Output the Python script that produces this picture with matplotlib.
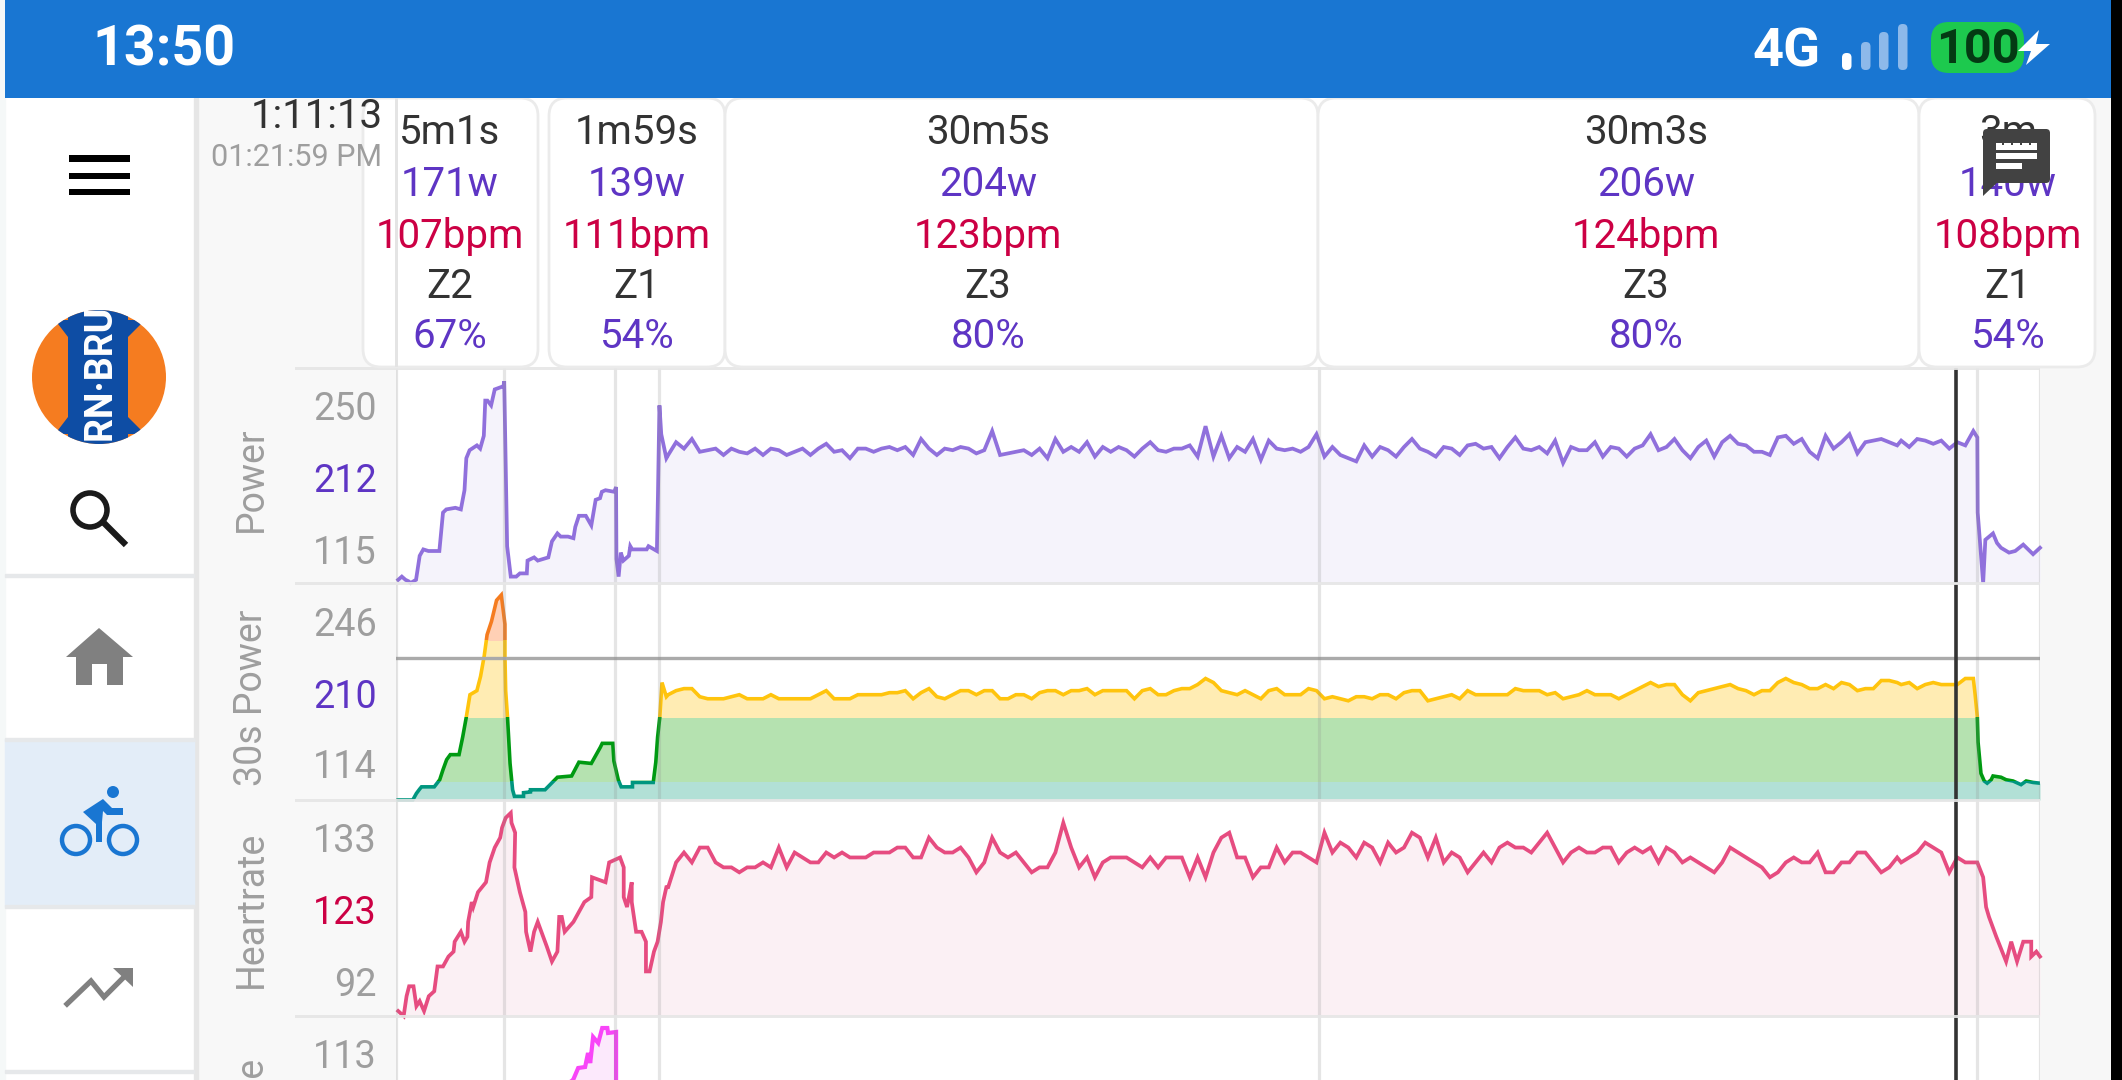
import numpy as np
import matplotlib
matplotlib.use("Agg")
import matplotlib.pyplot as plt
from matplotlib.patches import Rectangle, FancyBboxPatch, Circle, Polygon

plt.rcParams['font.family'] = ['Roboto', 'DejaVu Sans']

# ---------- data ----------
lap_edges = [0, 297, 601, 722, 2532, 4340, 4512]
cursor_t = 4282
threshold_30s = 220

power_head_t = [6,16,26,35,40,55,65,75,89,119,129,138,163,178,188,193,202,222,231,241,245,251,261,271,295,297,305,315,330,340,359,361,379,389,418,428,443,452,472,487,492,502,521,536,548,560,565,575,599,604,605,611,617,624,639,643,648,688,693,716,719,723,728,742]
power_head = [117,119,117,116,115,117,132,136,135,135,159,161,162,161,173,193,198,201,199,207,229,229,226,236,238,241,138,119,119,121,121,129,131,129,131,141,146,144,144,143,150,157,157,151,167,168,172,173,172,175,130,119,134,129,132,138,136,136,138,135,171,226,208,193]
power_lap3 = [195,203,199,205,197,198,199,195,199,197,196,199,195,199,198,195,197,199,195,199,202,197,198,193,199,199,197,199,200,198,200,195,205,199,195,199,198,200,199,196,198,210,195,196,197,198,195,199,193,205,197,200,197,203,194,200,197,200,198,194,199,203,198,197,199,199,201,194,213,194,207,193,200,197,205,192,204,199]
power_lap4 = [198,199,197,200,208,194,200,195,193,191,201,194,200,198,194,200,205,199,197,194,200,199,195,201,202,199,200,193,200,206,199,198,200,196,204,190,200,198,198,203,194,200,199,194,199,201,208,198,200,205,198,193,200,204,194,203,207,202,201,197,197,195,206,207,202,205,197,193,207,199,203,208,196,203,204,205,203,201]
power_end = [204,200,205,204,202,204,199,203,201]
power_tail_t = [4329,4340,4341,4356,4362,4383,4394,4405,4427,4444,4466,4493,4512]
power_tail = [210,206,159,115,142,146,140,137,134,135,139,133,137]

p30_head_t = [6,46,56,65,70,105,120,129,139,149,173,183,193,203,222,232,242,250,262,276,289,299,299,301,306,313,320,325,350,350,369,369,409,443,482,502,536,561,566,595,598,610,618,649,649,706,713,718,724,730,742]
p30_head = [114,114,123,129,132,132,141,149,157,161,161,175,191,202,204,211,221,231,236,244,246,235,221,204,191,154,128,119,119,124,125,128,128,143,144,155,154,167,170,170,156,141,132,132,138,138,155,175,191,208,201]
p30_lap3 = [202,204,205,205,201,200,200,200,201,202,200,200,200,202,200,200,200,200,200,202,204,200,200,200,202,202,202,202,203,203,204,200,203,205,201,200,202,204,204,202,204,204,200,200,202,202,200,203,204,204,202,204,204,205,202,204,204,204,204,200,204,205,202,202,204,205,205,207,210,208,204,203,202,204,202,200,204,205]
p30_lap4 = [202,202,202,205,204,200,201,200,199,201,201,200,202,202,200,203,204,204,199,200,201,202,200,204,202,202,202,202,202,205,204,204,204,202,203,200,201,202,204,202,202,202,200,202,204,206,208,206,207,207,202,199,203,204,205,206,207,205,204,202,204,204,208,210,208,207,205,205,207,205,208,207,204,205,205,209,209,208]
p30_end = [207,208,205,207,208,207,207,207,210]
p30_tail_t = [4329,4334,4340,4342,4350,4359,4367,4378,4383,4405,4419,4438,4460,4474,4493,4512]
p30_tail = [210,202,191,171,146,140,137,141,144,143,141,140,135,140,138,137]
zone_edges = [100, 140, 191, 229, 260]
zone_line = ['#00967F', '#009A12', '#FFC40D', '#F57C1F']
zone_fill = ['#B2E0D6', '#B5E2B0', '#FFECB3', '#FFD0B5']

hr_head_t = [6,21,29,36,48,56,65,77,90,105,114,129,144,158,161,178,188,196,198,208,212,225,247,257,271,286,291,301,315,317,327,325,340,355,357,369,379,389,404,414,428,443,448,455,463,487,502,517,536,538,575,585,615,625,625,634,647,647,659,674,686,686,696,708,718,727,733,742]
hr_head = [93,92,96,98,98,94,95,93,96,97,102,102,104,105,107,109,107,108,111,115,114,117,119,123,126,128,130,132,133,131,129,122,117,113,109,105,109,111,108,106,103,105,112,112,109,111,113,115,116,120,119,123,124,122,116,114,119,115,109,109,107,101,101,105,107,111,115,118]
hr_lap3 = [118,123,125,123,126,126,123,122,122,121,122,122,123,122,126,122,125,124,123,123,125,124,125,124,124,124,125,125,125,126,126,124,124,128,126,125,125,126,124,121,123,128,125,124,125,123,121,122,122,125,131,126,122,124,120,123,124,124,124,123,122,124,122,124,124,124,120,124,120,125,128,129,124,124,120,122,122,126]
hr_lap4 = [123,125,125,124,123,129,125,127,126,124,127,126,123,127,125,126,129,128,124,128,123,125,124,121,123,125,123,126,127,126,126,125,127,129,126,123,125,126,125,125,126,126,123,125,126,125,126,123,126,125,123,124,123,122,121,123,126,125,124,123,122,120,121,123,124,123,123,125,121,121,123,123,125,125,123,121,122,124]
hr_end = [123,124,125,127,126,125,121,124,123]
hr_tail_t = [4329,4340,4356,4364,4372,4392,4419,4433,4449,4466,4488,4488,4502,4512]
hr_tail = [123,123,120,114,112,108,103,107,103,107,107,104,105,104]

cad_t = [400,486,500,519,527,533,541,555,566,580,582,604,604]
cad = [40,61,73,74,88,78,104,98,113,113,108,109,40]

card_centers = [450, 637, 988, 1646, 2008]
card_spans = [(363,538),(549,725),(725,1318),(1318,1919),(1919,2095)]
lap_time = ['5m1s','1m59s','30m5s','30m3s','3m']
lap_watts = ['171w','139w','204w','206w','140w']
lap_bpm = ['107bpm','111bpm','123bpm','124bpm','108bpm']
lap_zone = ['Z2','Z1','Z3','Z3','Z1']
lap_pct = ['67%','54%','80%','80%','54%']

panel_labels = ['Power','30s Power','Heartrate']
# ---------- helpers ----------
W, H = 2122, 1080
fig = plt.figure(figsize=(W/100, H/100), dpi=100, facecolor='white')

def px_axes(z):
    a = fig.add_axes([0,0,1,1], zorder=z)
    a.set_xlim(0,W); a.set_ylim(H,0); a.axis('off'); a.patch.set_alpha(0)
    return a

def panel(top, bottom, z=5):
    a = fig.add_axes([396/W, 1-bottom/H, (2040-396)/W, (bottom-top)/H], zorder=z)
    a.axis('off'); a.patch.set_alpha(0)
    a.set_xlim(0, lap_edges[-1])
    return a

def build(head_t, head, a, b, c, tail_t, tail):
    t = np.concatenate([head_t, np.linspace(747,2417,len(a)), np.linspace(2439,4120,len(b)),
                        np.linspace(4131,4307,len(c)), tail_t])
    v = np.concatenate([head, a, b, c, tail]).astype(float)
    return t, v

def decorate(a):
    for e in lap_edges:
        a.axvline(e, color='#8c8c8c', alpha=0.22, lw=2.3, zorder=6)
    a.axvline(cursor_t, color='#333333', lw=2.6, zorder=8)

# ---------- background ----------
bg = px_axes(0)
bg.add_patch(Rectangle((0,0),W,H,color='white'))
bg.add_patch(Rectangle((0,0),5,H,color='#F5F8F8'))
bg.add_patch(Rectangle((198,98),198,H-98,color='#F8F8F8'))
bg.add_patch(Rectangle((2040,98),71,H-98,color='#F7F7F7'))
bg.add_patch(Rectangle((194,98),4,H-98,color='#E6E6E6'))
bg.add_patch(Rectangle((5,739),189,167,color='#E3EDF8'))
for y in (575,739,906,1071):
    bg.add_patch(Rectangle((5,y-1.5),189,3,color='#E6E8EA'))

# ---------- panels ----------
LINE_W = 2.7
ax1 = panel(367,583)
ax1.set_ylim(115,250)
t,v = build(power_head_t,power_head,power_lap3,power_lap4,power_end,power_tail_t,power_tail)
ax1.fill_between(t,115,v,color='#F5F3FB',lw=0)
ax1.plot(t,v,color='#9070DC',lw=LINE_W,solid_joinstyle='miter',zorder=4,clip_on=False)
decorate(ax1)

ax2 = panel(584,800)
w_anchor = [100,114,140,191,229,246,250,260]
h_anchor = [-8,0,19,83,160,205,216,243]
ax2.set_yscale('function', functions=(lambda x: np.interp(x,w_anchor,h_anchor),
                                      lambda x: np.interp(x,h_anchor,w_anchor)))
ax2.set_ylim(114,250)
t,v = build(p30_head_t,p30_head,p30_lap3,p30_lap4,p30_end,p30_tail_t,p30_tail)
for i in range(4):
    lo,hi = zone_edges[i],zone_edges[i+1]
    f = ax2.fill_between(t,114,v,color=zone_fill[i],lw=0,zorder=2)
    f.set_clip_path(Rectangle((0,lo),lap_edges[-1],hi-lo,transform=ax2.transData))
    l, = ax2.plot(t,v,color=zone_line[i],lw=2.6,zorder=4,solid_joinstyle='miter')
    l.set_clip_path(Rectangle((0,lo),lap_edges[-1],hi-lo,transform=ax2.transData))
ax2.axhline(threshold_30s,color='#AAAAAA',lw=2.4,zorder=5)
decorate(ax2)

ax3 = panel(800,1016)
ax3.set_ylim(92,135.6)
t,v = build(hr_head_t,hr_head,hr_lap3,hr_lap4,hr_end,hr_tail_t,hr_tail)
ax3.fill_between(t,92,v,color='#FBF0F4',lw=0)
ax3.plot(t,v,color='#E64C80',lw=LINE_W,solid_joinstyle='miter',zorder=4,clip_on=False)
decorate(ax3)

ax4 = panel(1016,1080)
ax4.set_ylim(61,125)
ax4.fill_between(cad_t,40,cad,color='#FCE9FC',lw=0)
ax4.plot(cad_t,cad,color='#F845F8',lw=3.0,solid_joinstyle='miter',zorder=4)
decorate(ax4)

# ---------- foreground ----------
fg = px_axes(10)
GRAY='#9E9E9E'; PURPLE='#5E35C4'; RED='#CC0044'; DARK='#333333'
for y in (368,583,800,1016):
    fg.add_patch(Rectangle((295,y-1.5),1745,3,color='#E6E6E6',alpha=.9,lw=0))

for y,txt,c in [(410,'250',GRAY),(482,'212',PURPLE),(553,'115',GRAY),
                (625,'246',GRAY),(698,'210',PURPLE),(768,'114',GRAY),
                (841,'133',GRAY),(914,'123',RED),(985,'92',GRAY),(1057,'113',GRAY)]:
    fg.text(377,y,txt,color=c,fontsize=27.2,ha='right',va='center')
for y,txt in zip((479,698,909),panel_labels):
    fg.text(251,y,txt,color=GRAY,fontsize=27,rotation=90,ha='center',va='center')
fg.text(251,1056,'Cadence',color=GRAY,fontsize=27,rotation=90,ha='center',va='top',clip_on=True)

# lap cards
for (a,b) in card_spans:
    fg.add_patch(FancyBboxPatch((a,98),b-a,269,boxstyle='round,pad=0,rounding_size=18',
                                fc='white',ec='#EBEBEB',lw=2))
fg.add_patch(Rectangle((394.5,98),3,269,color='#E4E4E4',lw=0,zorder=3))
rows = [(133,lap_time,DARK),(185,lap_watts,PURPLE),(236,lap_bpm,RED),(286,lap_zone,DARK),(336,lap_pct,PURPLE)]
for y,vals,c in rows:
    for x,s in zip(card_centers,vals):
        fg.text(x,y,s,color=c,fontsize=29,ha='center',va='center',zorder=4)
fg.text(383,116,'1:11:13',color=DARK,fontsize=29,ha='right',va='center',zorder=4)
fg.text(382,158,'01:21:59 PM',color=GRAY,fontsize=22,ha='right',va='center',zorder=4)

# comment icon
fg.add_patch(FancyBboxPatch((1983,129),67,54,boxstyle='round,pad=0,rounding_size=4',fc='#424242',ec='none',zorder=5))
fg.add_patch(Polygon([(1983,175),(1983,196),(2000,180)],fc='#424242',ec='none',zorder=5))
for (x0,x1,y0,y1) in [(1996,2037,143,150),(1996,2037,153,159),(1996,2022,163,169)]:
    fg.add_patch(Rectangle((x0,y0),x1-x0,y1-y0,fc='white',ec='none',zorder=6))
for x in (2002,2011,2020,2029):
    fg.add_patch(Rectangle((x,143),2,2,fc='#424242',ec='none',zorder=7))

# status bar
fg.add_patch(Rectangle((5,0),W-5,97.5,color='#1976D2',lw=0,zorder=7))
fg.text(92,51,'13:50',color='white',fontsize=40,fontweight='bold',ha='left',va='center',zorder=8)
fg.text(1752,52,'4G',color='white',fontsize=39,fontweight='bold',ha='left',va='center',zorder=8)
for x,top,c in [(1842,53,'white'),(1861,42,'#8DB9EA'),(1879,32,'#8DB9EA'),(1898,24,'#8DB9EA')]:
    fg.add_patch(FancyBboxPatch((x,top),9.5,70-top,boxstyle='round,pad=0,rounding_size=4.5',fc=c,ec='none',zorder=8))
fg.add_patch(FancyBboxPatch((1931,22),93,51,boxstyle='round,pad=0,rounding_size=18',fc='#1DC94E',ec='none',zorder=8))
fg.text(1978,50,'100',color='#043A13',fontsize=35,fontweight='bold',ha='center',va='center',zorder=9)
fg.add_patch(Polygon([(2039,30),(2018,51),(2031,51),(2026,65),(2050,44),(2036,44)],fc='white',ec='none',zorder=9))
fg.add_patch(Rectangle((2111,0),11,H,color='black',lw=0,zorder=10))

# side icons
for y0,y1 in [(155,162),(173,179),(189,195)]:
    fg.add_patch(Rectangle((69,y0),61,y1-y0,color='black',lw=0))
logo = Circle((99,377),67,fc='#F57C20',ec='none')
fg.add_patch(logo)
band = Rectangle((68,300),60,160,fc='#0E4DA4',ec='none'); fg.add_patch(band); band.set_clip_path(logo)
wings = Polygon([(55,320),(145,320),(128,337),(68,337)],fc='#0E4DA4',ec='none'); fg.add_patch(wings); wings.set_clip_path(logo)
wings2 = Polygon([(55,434),(145,434),(128,417),(68,417)],fc='#0E4DA4',ec='none'); fg.add_patch(wings2); wings2.set_clip_path(logo)
lt = fg.text(100,377,'IRN\u00b7BRU',color='white',fontsize=27,fontweight='bold',rotation=90,ha='center',va='center')
lt.set_clip_path(logo)
fg.add_patch(Circle((90,510),17,fc='none',ec='#1A1A1A',lw=4))
fg.plot([104,126],[523,545],color='#1A1A1A',lw=4.5,solid_capstyle='butt')
fg.add_patch(Polygon([(99,628),(133,657),(123,657),(123,685),(107,685),(107,664),(92,664),(92,685),(76,685),(76,657),(66,657)],fc='#808080',ec='none'))
BLUE='#1976D2'
for cx in (76,123):
    fg.add_patch(Circle((cx,840),14,fc='none',ec=BLUE,lw=3.2))
fg.add_patch(Circle((113,792),6,fc=BLUE,ec='none'))
fg.add_patch(Polygon([(83,812),(103,799),(112,808),(123,808),(123,815),(107,815),(103,811),(102,822),(102,842),(96,842),(96,824)],fc=BLUE,ec='none'))
fg.plot([67,91,104,125],[1004,981,997,976],color='#808080',lw=3.8,solid_joinstyle='miter')
fg.add_patch(Polygon([(113,968),(133,968),(133,987)],fc='#808080',ec='none'))

fig.savefig('out.png', dpi=100, facecolor='white')
